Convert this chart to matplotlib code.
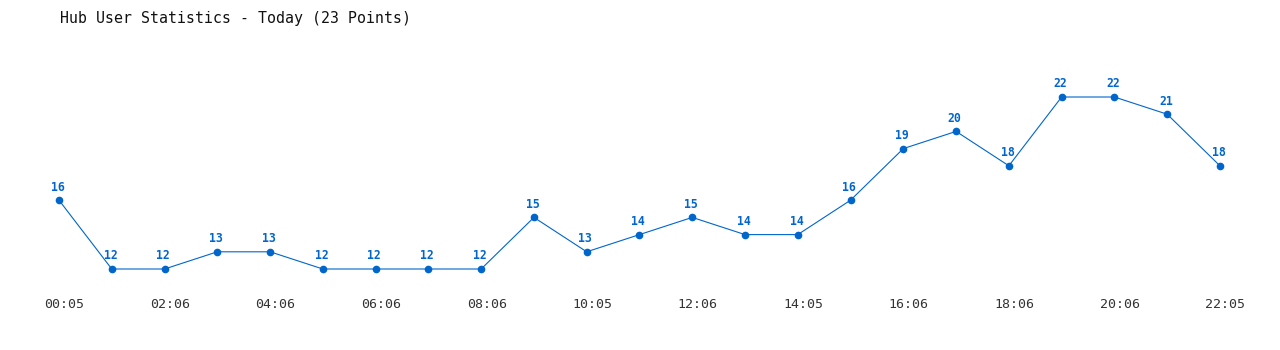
import matplotlib
matplotlib.use('Agg')
import matplotlib.pyplot as plt
import matplotlib.transforms as mtransforms

# 데이터
times = ['00:05', '01:05', '02:06', '03:06', '04:06', '05:05', '06:06', '07:06', '08:06',
         '09:05', '10:05', '11:06', '12:06', '13:06', '14:05', '15:06', '16:06', '17:06',
         '18:06', '19:06', '20:06', '21:06', '22:05']
users = [16, 12, 12, 13, 13, 12, 12, 12, 12, 15, 13, 14, 15, 14, 14, 16, 19, 20, 18, 22, 22, 21, 18]
title = 'Hub User Statistics - Today (23 Points)'

color = '#0066cc'
mono = 'DejaVu Sans Mono'

fig = plt.figure(figsize=(12.8, 3.5), dpi=100)
ax = fig.add_axes([0, 65 / 350, 1, 245 / 350])

xs = list(range(len(users)))
ax.plot(xs, users, color=color, linewidth=0.8, marker='o', markersize=4.5)

# 값 라벨
for x, v in zip(xs, users):
    ax.annotate(str(v), (x, v), xytext=(-1, 9.5), textcoords='offset points',
                ha='center', va='center', fontsize=8.3, fontweight='bold',
                color=color, family=mono)

ax.set_xlim(-59 / 52.77, (1280 - 59) / 52.77)
ax.set_ylim(12 - 16 / 17.2, 12 + 229 / 17.2)

ax.set_xticks(xs[::2])
ax.set_xticklabels(times[::2], family=mono, fontsize=9.5, color='#333333')
ax.tick_params(axis='x', length=0, pad=9)
shift = mtransforms.ScaledTranslation(5.5 / 100, 0, fig.dpi_scale_trans)
for lbl in ax.get_xticklabels():
    lbl.set_transform(lbl.get_transform() + shift)
ax.set_yticks([])
for s in ax.spines.values():
    s.set_visible(False)

fig.text(60 / 1280, 1 - 18 / 350, title, family=mono, fontsize=10.75,
         ha='left', va='center', color='#111111')

fig.savefig('out.png', dpi=100)
